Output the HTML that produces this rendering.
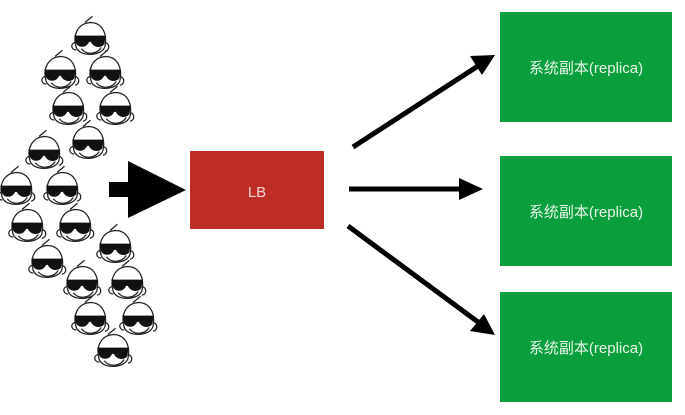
<!DOCTYPE html>
<html><head><meta charset="utf-8"><style>
html,body{margin:0;padding:0;background:#fff;width:685px;height:415px;overflow:hidden}
svg{display:block}
</style></head><body>
<svg width="685" height="415" viewBox="0 0 685 415" xmlns="http://www.w3.org/2000/svg">
<defs>
<g id="f" fill="none" stroke="#222" stroke-width="1" transform="scale(1.25)">
<path d="M-11,6 C-14,-4 -10,-13 0,-14 C10,-14 14,-5 12,5 C10,13 -8,14 -11,6 Z"/>
<path d="M-4,-14 L2,-19" />
<path d="M-12,2 C-16,3 -15,8 -11,8 M12,2 C16,3 16,8 12,9"/>
<path d="M-7,7 C-3,12 5,12 9,6"/>
<path d="M-12,-3 L12,-3 L11,3 C9,6 3,6 1,1 L-1,1 C-3,6 -9,6 -11,2 Z" fill="#111" stroke="#111"/>
</g>
</defs>
<g>
<use href="#f" x="90" y="40"/>
<use href="#f" x="60" y="74"/>
<use href="#f" x="105" y="74"/>
<use href="#f" x="68" y="110"/>
<use href="#f" x="115" y="110"/>
<use href="#f" x="44" y="154"/>
<use href="#f" x="88" y="144"/>
<use href="#f" x="16" y="190"/>
<use href="#f" x="62" y="190"/>
<use href="#f" x="27" y="227"/>
<use href="#f" x="75" y="227"/>
<use href="#f" x="115" y="248"/>
<use href="#f" x="47" y="263"/>
<use href="#f" x="82" y="284"/>
<use href="#f" x="127" y="284"/>
<use href="#f" x="90" y="320"/>
<use href="#f" x="138" y="320"/>
<use href="#f" x="113" y="352"/>
</g>
<polygon points="109,182 128,182 128,161 186,190 128,218 128,197 109,197" fill="#000"/>
<rect x="190" y="151" width="134" height="78" fill="#bd2d26"/>
<text x="257" y="197" font-family="Liberation Sans, sans-serif" font-size="15" fill="#f2d5d2" text-anchor="middle">LB</text>
<g stroke="#000" stroke-width="5">
<line x1="353" y1="147" x2="478" y2="66"/>
<line x1="349" y1="189" x2="462" y2="189"/>
<line x1="348" y1="226" x2="478" y2="322"/>
</g>
<polygon points="495,55 470,56 482,75" fill="#000"/>
<polygon points="483,189 459,178 459,200" fill="#000"/>
<polygon points="495,335 470,331 484,314" fill="#000"/>
<g fill="#0a9e3c">
<rect x="500" y="12" width="172" height="110"/>
<rect x="500" y="156" width="172" height="110"/>
<rect x="500" y="292" width="172" height="110"/>
</g>
<g font-family="Liberation Sans, 'Noto Sans CJK SC', sans-serif" font-size="15" fill="#e8f5ea" text-anchor="middle">
<text x="586" y="73">系统副本(replica)</text>
<text x="586" y="217">系统副本(replica)</text>
<text x="586" y="353">系统副本(replica)</text>
</g>
</svg>
</body></html>
